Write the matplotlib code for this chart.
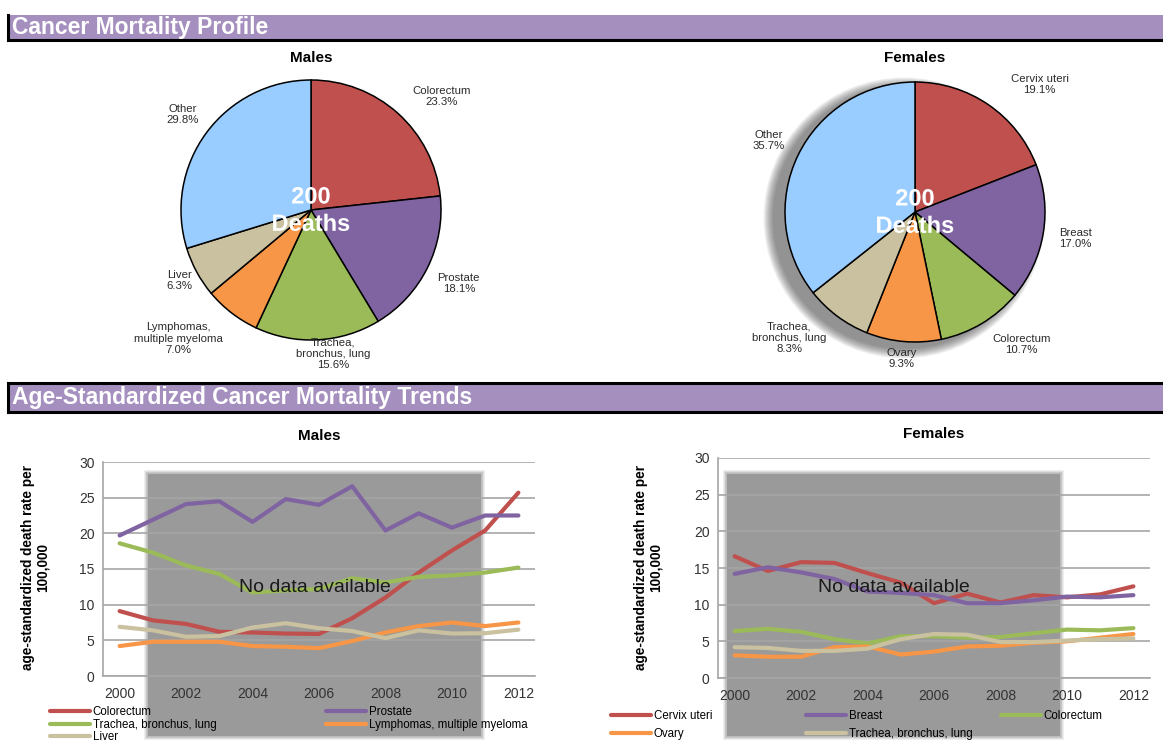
import numpy as np
import matplotlib
matplotlib.use("Agg")
import matplotlib.pyplot as plt
from matplotlib.patches import Rectangle, Circle
import matplotlib.patheffects as pe

plt.rcParams["font.family"] = ["Liberation Sans", "DejaVu Sans"]

# ---- pie data ----
male_pie_labels = ["Colorectum", "Prostate", "Trachea,\nbronchus, lung",
                   "Lymphomas,\nmultiple myeloma", "Liver", "Other"]
male_pie_pct = [23.3, 18.1, 15.6, 7.0, 6.3, 29.8]
female_pie_labels = ["Cervix uteri", "Breast", "Colorectum", "Ovary",
                     "Trachea,\nbronchus, lung", "Other"]
female_pie_pct = [19.1, 17.0, 10.7, 9.3, 8.3, 35.7]
deaths_male = 200
deaths_female = 200

# ---- trend data ----
years = list(range(2000, 2013))
male_series = {
    "Colorectum": [9.1, 7.8, 7.3, 6.2, 6.1, 5.95, 5.9, 8.1, 11.0, 14.5, 17.6, 20.4, 25.7],
    "Prostate": [19.7, 21.9, 24.1, 24.5, 21.6, 24.8, 24.0, 26.6, 20.4, 22.8, 20.8, 22.5, 22.5],
    "Trachea, bronchus, lung": [18.6, 17.3, 15.5, 14.3, 11.7, 12.0, 12.2, 13.7, 13.1, 13.9, 14.1, 14.5, 15.2],
    "Lymphomas, multiple myeloma": [4.2, 4.8, 4.8, 4.8, 4.2, 4.1, 3.9, 4.9, 6.1, 7.0, 7.5, 7.0, 7.5],
    "Liver": [6.9, 6.4, 5.5, 5.6, 6.8, 7.4, 6.7, 6.3, 5.3, 6.4, 5.95, 6.0, 6.5],
}
female_series = {
    "Cervix uteri": [16.6, 14.6, 15.8, 15.7, 14.3, 13.0, 10.2, 11.5, 10.3, 11.3, 11.0, 11.4, 12.5],
    "Breast": [14.2, 15.1, 14.4, 13.5, 11.8, 11.6, 11.3, 10.2, 10.2, 10.6, 11.1, 11.0, 11.3],
    "Colorectum": [6.4, 6.7, 6.3, 5.3, 4.7, 5.7, 5.7, 5.5, 5.6, 6.1, 6.6, 6.5, 6.8],
    "Ovary": [3.1, 2.9, 2.9, 4.2, 4.3, 3.2, 3.6, 4.3, 4.4, 4.8, 5.0, 5.5, 6.0],
    "Trachea, bronchus, lung": [4.2, 4.1, 3.7, 3.7, 4.0, 5.3, 6.0, 5.9, 4.9, 4.9, 5.1, 5.3, 5.4],
}

RED, PURPLE, GREEN, ORANGE, TAN, BLUE = "#c0504d", "#8064a2", "#9bbb59", "#f79646", "#c9c19f", "#99ccff"
pie_colors = [RED, PURPLE, GREEN, ORANGE, TAN, BLUE]
line_colors = [RED, PURPLE, GREEN, ORANGE, TAN]
HEADER = "#a48fbf"

W, H = 1163, 745
fig = plt.figure(figsize=(W / 100, H / 100), dpi=100)


def px(x, y, w, h):
    # pixel box (top-left origin) -> figure fraction
    return [x / W, 1 - (y + h) / H, w / W, h / H]


def header(y0, y1, text, top_line):
    fig.patches.append(Rectangle((8 / W, 1 - y1 / H), 1 - 8 / W, (y1 - y0) / H,
                                 transform=fig.transFigure, facecolor=HEADER, edgecolor="none"))
    kw = dict(transform=fig.transFigure, color="black", lw=2.2)
    fig.add_artist(plt.Line2D([8 / W, 1], [1 - y1 / H] * 2, **kw))
    fig.add_artist(plt.Line2D([8 / W] * 2, [1 - y0 / H, 1 - y1 / H], **kw))
    if top_line:
        fig.add_artist(plt.Line2D([8 / W, 1], [1 - y0 / H] * 2, **kw))
    fig.text(12 / W, 1 - (y0 + y1) / 2 / H, text, color="white", fontsize=16.5,
             fontweight="bold", va="center", ha="left")


header(15, 40, "Cancer Mortality Profile", False)
header(383, 412, "Age-Standardized Cancer Mortality Trends", True)


def pie(cx, cy, title, labels, pct, dists, turns, total, shadow):
    R = 130
    half = 190
    ax = fig.add_axes(px(cx - half, cy - half, 2 * half, 2 * half))
    lim = half / R
    ax.set_aspect("equal")
    ax.axis("off")
    if shadow:
        for k in range(10):
            ax.add_patch(Circle((-0.085, -0.045), 1.0 + 0.008 * (10 - k), color="#444444",
                                alpha=0.08, lw=0, zorder=0))
    ax.pie(pct, colors=pie_colors, startangle=90, counterclock=False, radius=1,
           wedgeprops=dict(edgecolor="black", linewidth=1.1))
    ax.set_xlim(-lim, lim)
    ax.set_ylim(-lim, lim)
    cum = np.cumsum([0] + pct)
    for i, (lab, p) in enumerate(zip(labels, pct)):
        mid = np.deg2rad(90 - 3.6 * (cum[i] + p / 2) + turns[i])
        d = dists[i]
        ax.text(d * np.cos(mid), d * np.sin(mid), f"{lab}\n{p:.1f}%", ha="center",
                va="center", fontsize=8.2, color="#2a2a2a", linespacing=1.15)
    fx = [pe.SimpleLineShadow(offset=(1.5, -1.5), alpha=0.5), pe.Normal()]
    ax.text(0, 0.1, f"{total}", ha="center", va="center", fontsize=17, fontweight="bold",
            color="white", path_effects=fx)
    ax.text(0, -0.11, "Deaths", ha="center", va="center", fontsize=17, fontweight="bold",
            color="white", path_effects=fx)
    fig.text(cx / W, 1 - 58 / H, title, ha="center", va="center", fontsize=11, fontweight="bold")


pie(311, 210, "Males", male_pie_labels, male_pie_pct, [1.33, 1.27, 1.12, 1.42, 1.15, 1.23],
    [-7, 0, 6, -8, 0, 0], deaths_male, False)
pie(915, 212, "Females", female_pie_labels, female_pie_pct, [1.37, 1.25, 1.31, 1.13, 1.37, 1.25],
    [-10, 0, 8, 0, -8, 0], deaths_female, True)


def trend(left, right, y_top, y_bot, title, title_y, series, box, legend_cols, ylab_x, lspace):
    ax = fig.add_axes(px(left, y_top, right - left, y_bot - y_top))
    x = np.arange(len(years))
    handles = {}
    for (name, vals), c in zip(series.items(), line_colors):
        (ln,) = ax.plot(x, vals, color=c, lw=3, solid_capstyle="round", zorder=3)
        handles[name] = ln
    ax.set_xlim(-0.5, len(years) - 0.5)
    ax.set_ylim(0, 30)
    ax.set_yticks(range(0, 31, 5))
    ax.set_xticks(x[::2])
    ax.set_xticklabels([str(y) for y in years[::2]])
    ax.tick_params(axis="both", labelsize=10, colors="#333333", length=0, pad=6)
    ax.tick_params(axis="x", pad=8)
    ax.yaxis.grid(True, color="#a6a6a6", lw=1.2)
    for s in ["top", "right"]:
        ax.spines[s].set_visible(False)
    for s in ["left", "bottom"]:
        ax.spines[s].set_color("#a6a6a6")
        ax.spines[s].set_linewidth(1.2)
    bx0, by0, bx1, by1 = box
    for k in range(6):
        g = 4 - k * 0.8
        ax.add_patch(Rectangle(((bx0 - g) / W, 1 - (by1 + g) / H), (bx1 - bx0 + 2 * g) / W,
                               (by1 - by0 + 2 * g) / H, transform=fig.transFigure,
                               facecolor="#777777", edgecolor="none", alpha=0.12,
                               clip_on=False, zorder=1))
    ax.add_patch(Rectangle((bx0 / W, 1 - by1 / H), (bx1 - bx0) / W, (by1 - by0) / H,
                           transform=fig.transFigure, facecolor="#8a8a8a", edgecolor="none",
                           alpha=0.6, clip_on=False, zorder=1))
    fig.text((bx0 + bx1) / 2 / W, 1 - 588 / H, "No data available", ha="center", va="center",
             fontsize=14, color="#1a1a1a", zorder=1.2)
    ax.set_title(title, fontsize=11, fontweight="bold", pad=0, y=(y_bot - title_y) / (y_bot - y_top))
    fig.text(ylab_x / W, 1 - 567 / H, "age-standardized death rate per\n100,000", rotation=90,
             ha="center", va="center", fontsize=9.8, fontweight="bold", linespacing=1.05)
    for names, (cx, cy) in legend_cols:
        fig.legend([handles[n] for n in names], names, loc="upper left",
                   bbox_to_anchor=(cx / W, 1 - cy / H), frameon=False, fontsize=8.3,
                   handlelength=3.5, handletextpad=0.2, labelspacing=lspace,
                   borderpad=0, borderaxespad=0)
    return ax


trend(103, 535, 462, 676, "Males", 440, male_series, (148, 474, 481, 736),
      [(["Colorectum", "Trachea, bronchus, lung", "Liver"], (50, 706)),
       (["Prostate", "Lymphomas, multiple myeloma"], (326, 706))], 35, 0.05)
trend(718, 1150, 458, 678, "Females", 438, female_series, (727, 474, 1060, 736),
      [(["Cervix uteri", "Ovary"], (611, 710)),
       (["Breast", "Trachea, bronchus, lung"], (806, 710)),
       (["Colorectum"], (1001, 710))], 648, 0.5)

fig.savefig("out.png", dpi=100)
